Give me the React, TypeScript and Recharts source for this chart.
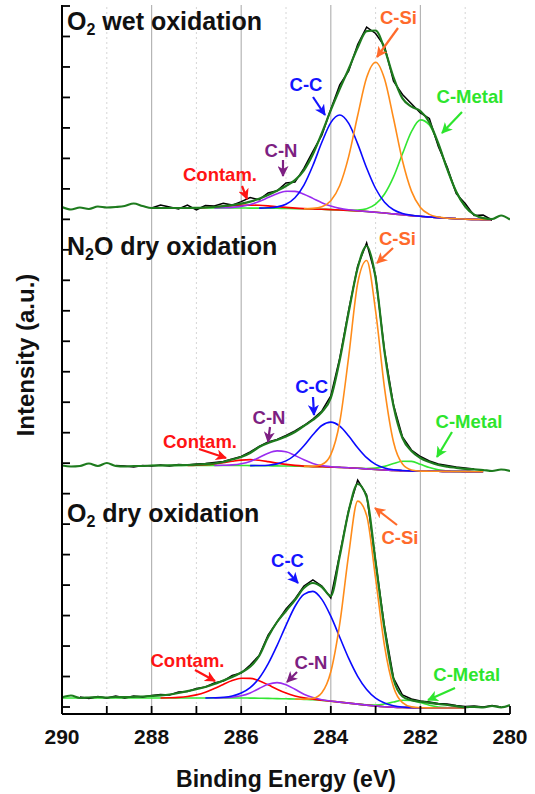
import React from 'react';
import { LineChart, Line, XAxis, YAxis, ReferenceLine } from 'recharts';

const _ = null;

// Binding energy grid (eV)
const BE = [
  290, 289.8, 289.6, 289.4, 289.2, 289, 288.8, 288.6, 288.4, 288.2,
  288, 287.8, 287.6, 287.4, 287.2, 287, 286.8, 286.6, 286.4, 286.2,
  286, 285.8, 285.6, 285.4, 285.2, 285, 284.8, 284.6, 284.4, 284.2,
  284, 283.8, 283.6, 283.4, 283.2, 283, 282.8, 282.6, 282.4, 282.2,
  282, 281.8, 281.6, 281.4, 281.2, 281, 280.8, 280.6, 280.4, 280.2,
  280,
];
const xTicks = [290, 289, 288, 287, 286, 285, 284, 283, 282, 281, 280];
const xTickLabels = ['290', '', '288', '', '286', '', '284', '', '282', '', '280'];

// vertical offset of each stacked spectrum (intensity units)
const panelBase = [494, 242, 6];

// ---------- Panel 1 : O2 wet oxidation ----------
const p1Bg = [
  _, _, _, _, _, _, _, _, _, _,
  12, 12, 12, 12, 12, 12, 12, 12, 12, 12,
  12, 11.9, 11.9, 11.8, 11.7, 11.6, 11.4, 11.2, 11, 10.7,
  10.4, 10, 9.6, 9.1, 8.5, 7.8, 7, 6.1, 5.2, 4.4,
  3.7, 3, 2.4, 1.8, 1.3, 0.9, 0.6, 0.4, 0.2, _,
  _,
];
const p1Contam = [
  _, _, _, _, _, _, _, _, _, _,
  _, _, _, _, 0, 0.2, 0.5, 1, 1.6, 2.3,
  2.8, 3, 2.8, 2.3, 1.6, 1, 0.5, 0.2, 0, 0,
  0, 0, 0, 0, 0, 0, 0, 0, 0, 0,
  0, 0, 0, 0, 0, 0, 0, 0, 0, _,
  _,
];
const p1CN = [
  _, _, _, _, _, _, _, _, _, _,
  _, _, _, _, _, _, _, 0, 0.2, 0.6,
  1.6, 3.5, 6.6, 10.6, 14.6, 17.2, 17.2, 14.6, 10.6, 6.6,
  3.5, 1.6, 0.6, 0.2, 0, 0, 0, 0, 0, 0,
  0, 0, 0, 0, 0, 0, 0, 0, 0, _,
  _,
];
const p1CC = [
  _, _, _, _, _, _, _, _, _, _,
  _, _, _, _, _, _, _, _, _, _,
  _, _, 0, 0.4, 1.4, 4.2, 10.8, 23.7, 43.5, 67,
  87, 95, 87, 67, 43.5, 23.7, 10.8, 4.2, 1.4, 0.4,
  0, 0, 0, 0, 0, 0, 0, 0, 0, _,
  _,
];
const p1CSi = [
  _, _, _, _, _, _, _, _, _, _,
  _, _, _, _, _, _, _, _, _, _,
  _, _, _, _, _, _, _, 0, 0.6, 2.6,
  8.9, 24.5, 54, 95.4, 134, 150, 134, 95.4, 54, 24.5,
  8.9, 2.6, 0.6, 0, 0, 0, 0, 0, 0, _,
  _,
];
const p1Metal = [
  _, _, _, _, _, _, _, _, _, _,
  _, _, _, _, _, _, _, _, _, _,
  _, _, _, _, _, _, _, _, _, _,
  _, _, 0, 0.8, 2.8, 8, 19, 37, 61, 84,
  96.4, 92, 73.5, 49, 27, 12.6, 4.8, 1.5, 0.4, _,
  _,
];
const p1Env = [
  13, 10.5, 12.5, 11, 13.5, 12.5, 13, 14, 16.5, 14,
  12, 12, 12, 12, 12, 12.2, 12.5, 13, 13.8, 14.9,
  16.4, 18.4, 21.3, 25.1, 29.3, 34, 39.9, 49.7, 65.7, 86.9,
  109.8, 131.1, 151.2, 172.5, 188.8, 189.5, 170.8, 142.7, 121.6, 113.3,
  109, 97.6, 76.5, 50.8, 28.3, 13.5, 5.4, 1.9, 1, 4.5,
  0.5,
];
const p1Raw = [
  _, _, _, _, _, _, _, _, _, _,
  12, 15, 13, 11, 15, 10.2, 14.5, 14, 16.8, 14.9,
  18.4, 22.4, 20.3, 27.1, 29.3, 37, 37.9, 51.7, 68.7, 84.9,
  110.8, 135.1, 149.2, 175.5, 192.8, 186.5, 173.8, 138.7, 125.6, 116.3,
  107, 101.6, 73.5, 52.8, 26.3, 16.5, 4.4, 4.9, 0, _,
  _,
];

// ---------- Panel 2 : N2O dry oxidation ----------
const p2Bg = [
  _, _, _, _, _, _, _, _, _, _,
  6.5, 6.5, 6.5, 6.5, 6.5, 6.5, 6.5, 6.5, 6.5, 6.5,
  6.5, 6.4, 6.3, 6.2, 6.1, 6, 5.8, 5.6, 5.4, 5.2,
  4.9, 4.6, 4.2, 3.7, 3.1, 2.5, 2, 1.6, 1.3, 1.1,
  0.9, 0.8, 0.7, 0.6, 0.5, 0.4, 0.3, 0.2, _, _,
  _,
];
const p2Contam = [
  _, _, _, _, _, _, _, _, _, _,
  _, _, _, _, 0, 0.3, 0.8, 1.6, 2.8, 4.2,
  5.4, 6, 5.4, 4.2, 2.8, 1.6, 0.8, 0.3, 0, 0,
  0, 0, 0, 0, 0, 0, 0, 0, 0, 0,
  0, 0, 0, 0, 0, 0, 0, 0, _, _,
  _,
];
const p2CN = [
  _, _, _, _, _, _, _, _, _, _,
  _, _, _, _, _, _, _, 0, 0.2, 0.6,
  1.8, 4.2, 8.2, 12.6, 15, 14.2, 10.8, 6.6, 3.2, 1.2,
  0.4, 0.1, 0, 0, 0, 0, 0, 0, 0, 0,
  0, 0, 0, 0, 0, 0, 0, 0, _, _,
  _,
];
const p2CC = [
  _, _, _, _, _, _, _, _, _, _,
  _, _, _, _, _, _, _, _, _, _,
  _, 0, 0.2, 0.6, 2, 5.1, 11.2, 20.6, 31.8, 41.3,
  45, 41.3, 31.8, 20.6, 11.2, 5.1, 2, 0.6, 0.2, 0,
  0, 0, 0, 0, 0, 0, 0, 0, _, _,
  _,
];
const p2CSi = [
  _, _, _, _, _, _, _, _, _, _,
  _, _, _, _, _, _, _, _, _, _,
  _, _, _, _, _, _, _, 0, 0.3, 2.3,
  12.5, 45.4, 111.5, 185, 208.4, 158.5, 81.7, 28.4, 6.7, 1,
  0, 0, 0, 0, 0, 0, 0, 0, _, _,
  _,
];
const p2Metal = [
  _, _, _, _, _, _, _, _, _, _,
  _, _, _, _, _, _, _, _, _, _,
  _, _, _, _, _, _, _, _, _, _,
  _, _, 0, 0.1, 0.4, 1.4, 3.6, 6.8, 9.5, 9.5,
  6.8, 3.6, 1.4, 0.4, 0.1, 0, 0, 0, _, _,
  _,
];
const p2Env = [
  6.5, 5.5, 6, 8.5, 6, 9, 6, 5.5, 6, 6,
  6.5, 6.5, 6.6, 6.8, 7, 7.4, 7.9, 8.5, 10, 12.5,
  15, 19, 25, 29, 32, 35.5, 40, 46, 52, 60,
  74, 112, 160, 204, 226, 194, 120, 66, 34, 21,
  14, 10, 7, 5.3, 4.2, 3.2, 2.6, 2, 1, 2.5,
  1,
];
const p2Raw = [
  _, _, _, _, _, _, 6.5, 6, 5, 6.5,
  6, 7, 6, 7.5, 7, 8, 8.5, 9.5, 10.5, 13,
  15.5, 20, 25.5, 30, 32.5, 36.5, 41, 46.5, 53, 61,
  76, 114, 162, 206, 229, 196, 121, 67, 35, 22,
  15.5, 11, 8, 6.5, 5, 4, 3, _, _, _,
  _,
];

// ---------- Panel 3 : O2 dry oxidation ----------
const p3Bg = [
  10, 10, 10, 10, 10, 10, 10, 10, 10, 10,
  10, 10, 10, 10, 10, 10, 10, 10, 10, 10,
  10, 9.9, 9.8, 9.6, 9.4, 9.2, 9, 8.6, 8.2, 7.6,
  6.8, 5.9, 4.9, 3.9, 2.9, 2, 1.3, 0.8, 0.5, 0.3,
  0.2, 0.1, 0, 0, 0, 0, _, _, _, _,
  _,
];
const p3Contam = [
  _, _, _, _, _, _, _, _, _, _,
  _, 0, 0.2, 0.6, 1.5, 3.1, 5.7, 9.4, 13.6, 17.4,
  19.7, 19.7, 17.4, 13.6, 9.4, 5.7, 3.1, 1.5, 0.6, 0.2,
  0, 0, 0, 0, 0, 0, 0, 0, 0, 0,
  0, 0, 0, 0, 0, 0, _, _, _, _,
  _,
];
const p3CN = [
  _, _, _, _, _, _, _, _, _, _,
  _, _, _, _, _, _, _, 0, 0.2, 0.7,
  2.2, 5.2, 9.7, 14.1, 16, 14.1, 9.7, 5.2, 2.2, 0.7,
  0.2, 0, 0, 0, 0, 0, 0, 0, 0, 0,
  0, 0, 0, 0, 0, 0, _, _, _, _,
  _,
];
const p3CC = [
  _, _, _, _, _, _, _, _, _, _,
  _, _, _, _, _, _, 0, 0.2, 0.7, 2,
  5, 10.5, 20, 34.5, 53, 73.5, 92.5, 105, 108.4, 101,
  85, 64.8, 44.7, 27.8, 15.6, 7.9, 3.7, 1.5, 0.5, 0.2,
  0, 0, 0, 0, 0, 0, _, _, _, _,
  _,
];
const p3CSi = [
  _, _, _, _, _, _, _, _, _, _,
  _, _, _, _, _, _, _, _, _, _,
  _, _, _, _, _, _, 0, 0.2, 1.4, 7.7,
  29.4, 78.5, 149, 203, 189.7, 127.5, 60.6, 20.2, 4.8, 0.8,
  0.1, 0, 0, 0, 0, 0, _, _, _, _,
  _,
];
const p3Metal = [
  _, _, _, _, _, _, _, _, _, _,
  _, _, _, _, _, _, _, _, _, _,
  _, _, _, _, _, _, _, _, _, _,
  _, _, _, 0, 0.3, 1, 2.7, 5.2, 7.2, 7.2,
  5.2, 2.7, 1, 0.3, 0, 0, _, _, _, _,
  _,
];
const p3Env = [
  10.5, 12.5, 10, 10.5, 11, 10.5, 11, 10.8, 11.2, 11.5,
  12, 12.6, 13.5, 15, 16.8, 18.8, 21, 24, 27.5, 31,
  35.5, 41.3, 52, 71, 86, 97, 108, 120, 125, 121,
  112, 152, 197, 224, 211, 146, 79, 29, 11.5, 7.8,
  6.3, 5.2, 4, 3, 1.8, 0.8, 1.2, 0.5, 2, 0.7,
  3,
];
const p3Raw = [
  _, _, 11, 9.5, 11.5, 10, 12, 10, 12, 11,
  12.5, 13.5, 13, 16, 16.5, 19.5, 21, 25, 27, 32.5,
  35, 43, 52.5, 73, 86, 99, 109, 122, 128, 122,
  110, 154, 198, 228, 213, 147, 81, 30, 13, 9,
  7, 6, 4.5, 4, 2.5, 1.5, 2, 1, 2.5, 1,
  _,
];

// ---------- styling ----------
const FONT = '"Liberation Sans", Arial, Helvetica, sans-serif';
const COL = {
  raw: '#000000',
  env: '#1e7b1e',
  bg: '#33e633',
  metal: '#33e633',
  contam: '#ff0000',
  cn: '#9a2cf0',
  cc: '#0a0aff',
  csi: '#ff8c1a',
};
const LABEL_COL = {
  contam: '#ff1414',
  cn: '#7d1f82',
  cc: '#1414ff',
  csi: '#ff6a2b',
  metal: '#2de52d',
};

type Num = number | null;
function build(vals: Num[], base: number, bg?: Num[]) {
  return BE.map((x, i) => {
    const v = vals[i];
    const b = bg ? bg[i] : 0;
    return { x, y: v == null || b == null ? null : base + v + (b as number) };
  });
}

const panels = [
  { bg: p1Bg, contam: p1Contam, cn: p1CN, cc: p1CC, csi: p1CSi, metal: p1Metal, env: p1Env, raw: p1Raw },
  { bg: p2Bg, contam: p2Contam, cn: p2CN, cc: p2CC, csi: p2CSi, metal: p2Metal, env: p2Env, raw: p2Raw },
  { bg: p3Bg, contam: p3Contam, cn: p3CN, cc: p3CC, csi: p3CSi, metal: p3Metal, env: p3Env, raw: p3Raw },
];

// y-axis tick positions (unlabelled)
const yTicks = Array.from({ length: 24 }, (_v, k) => 7 + (k * 701) / 23);
const Y_TICK_LEN = 8 / 44.8; // eV (= 8 px)

function XTick(props: any) {
  const { x, y, payload } = props;
  const idx = xTicks.indexOf(payload.value);
  const label = idx >= 0 ? xTickLabels[idx] : '';
  return (
    <g>
      <line x1={x} x2={x} y1={y} y2={y - 8} stroke="#000" strokeWidth={1.8} />
      {label ? (
        <text x={x} y={y} dy={30} textAnchor="middle" fontFamily={FONT} fontWeight="bold" fontSize={21} fill="#111">
          {label}
        </text>
      ) : null}
    </g>
  );
}

// annotation layout (pixels)
const titles = [
  { a: 'O', s: '2', b: ' wet oxidation', x: 67, y: 30 },
  { a: 'N', s: '2', b: 'O dry oxidation', x: 67, y: 255 },
  { a: 'O', s: '2', b: ' dry oxidation', x: 67, y: 522 },
];
const compLabels = [
  { t: 'C-Si', c: 'csi', x: 398.5, y: 17 },
  { t: 'C-C', c: 'cc', x: 306, y: 84.5 },
  { t: 'C-Metal', c: 'metal', x: 470, y: 96.5 },
  { t: 'C-N', c: 'cn', x: 281, y: 150 },
  { t: 'Contam.', c: 'contam', x: 220, y: 174.5 },
  { t: 'C-Si', c: 'csi', x: 397.5, y: 238 },
  { t: 'C-C', c: 'cc', x: 311.7, y: 386.5 },
  { t: 'C-N', c: 'cn', x: 269, y: 417 },
  { t: 'Contam.', c: 'contam', x: 200, y: 441 },
  { t: 'C-Metal', c: 'metal', x: 469, y: 421.7 },
  { t: 'C-Si', c: 'csi', x: 400, y: 537.5 },
  { t: 'C-C', c: 'cc', x: 287.5, y: 560.5 },
  { t: 'C-N', c: 'cn', x: 311, y: 662.5 },
  { t: 'Contam.', c: 'contam', x: 187.5, y: 660 },
  { t: 'C-Metal', c: 'metal', x: 466.7, y: 674 },
];
const arrows = [
  { c: 'csi', x1: 398, y1: 28, x2: 377, y2: 57 },
  { c: 'cc', x1: 313, y1: 97, x2: 325, y2: 115 },
  { c: 'metal', x1: 462, y1: 112, x2: 442, y2: 133 },
  { c: 'cn', x1: 283, y1: 160, x2: 283, y2: 176 },
  { c: 'contam', x1: 242, y1: 186, x2: 247, y2: 199 },
  { c: 'csi', x1: 393, y1: 248, x2: 377, y2: 263 },
  { c: 'cc', x1: 313, y1: 397, x2: 314, y2: 415 },
  { c: 'cn', x1: 270, y1: 427, x2: 268, y2: 442 },
  { c: 'contam', x1: 199, y1: 449, x2: 226, y2: 458 },
  { c: 'metal', x1: 452, y1: 432, x2: 437, y2: 457 },
  { c: 'csi', x1: 397, y1: 525, x2: 375, y2: 508 },
  { c: 'cc', x1: 288, y1: 572, x2: 298, y2: 583 },
  { c: 'cn', x1: 297, y1: 672, x2: 287, y2: 682 },
  { c: 'contam', x1: 195, y1: 670, x2: 215, y2: 681 },
  { c: 'metal', x1: 455, y1: 688, x2: 428, y2: 700 },
];

export default function App() {
  const lines: React.ReactNode[] = [];
  panels.forEach((p, pi) => {
    const base = panelBase[pi];
    const defs: [string, Num[], boolean, string, number, 'monotone' | 'linear'][] = [
      ['bg', p.bg, false, COL.bg, 1.6, 'monotone'],
      ['metal', p.metal, true, COL.metal, 1.6, 'monotone'],
      ['contam', p.contam, true, COL.contam, 1.6, 'monotone'],
      ['cn', p.cn, true, COL.cn, 1.6, 'monotone'],
      ['cc', p.cc, true, COL.cc, 1.6, 'monotone'],
      ['csi', p.csi, true, COL.csi, 1.6, 'monotone'],
      ['raw', p.raw, false, COL.raw, 1.5, 'linear'],
      ['env', p.env, false, COL.env, 2.2, 'monotone'],
    ];
    defs.forEach(([name, vals, useBg, color, w, type]) => {
      lines.push(
        <Line
          key={`p${pi}-${name}`}
          data={build(vals, base, useBg ? p.bg : undefined)}
          dataKey="y"
          type={type}
          stroke={color}
          strokeWidth={w}
          dot={false}
          activeDot={false}
          isAnimationActive={false}
          connectNulls={false}
        />
      );
    });
  });

  return (
    <div style={{ position: 'absolute', left: 0, top: 0, width: 535, height: 794, background: '#fff' }}>
      <LineChart width={535} height={794} margin={{ top: 5, right: 25, bottom: 50, left: 62 }}>
        {[288, 286, 284, 282].map((v) => (
          <ReferenceLine key={`g${v}`} x={v} stroke="#b5b5b5" strokeWidth={1.2} />
        ))}
        {[289, 287, 285, 283, 281].map((v) => (
          <ReferenceLine key={`d${v}`} x={v} stroke="#d6d6d6" strokeWidth={1} strokeDasharray="2 3" />
        ))}
        <XAxis
          type="number"
          dataKey="x"
          domain={[280, 290]}
          reversed
          allowDataOverflow
          ticks={xTicks}
          interval={0}
          height={30}
          tickSize={0}
          tickMargin={0}
          axisLine={{ stroke: '#000', strokeWidth: 2 }}
          tickLine={false}
          tick={<XTick />}
        />
        <YAxis
          type="number"
          domain={[0, 709]}
          allowDataOverflow
          ticks={yTicks}
          interval={0}
          mirror
          tickSize={0}
          tick={false}
          axisLine={{ stroke: '#000', strokeWidth: 2 }}
          tickLine={false}
        />
        {lines}
        {yTicks.map((u, k) => (
          <ReferenceLine
            key={`yt${k}`}
            segment={[{ x: 290, y: u }, { x: 290 - Y_TICK_LEN, y: u }]}
            stroke="#000"
            strokeWidth={1.8}
            ifOverflow="visible"
          />
        ))}
      </LineChart>
      <svg
        width={535}
        height={794}
        style={{ position: 'absolute', left: 0, top: 0, pointerEvents: 'none' }}
      >
        <defs>
          {Object.entries(LABEL_COL).map(([k, c]) => (
            <marker
              key={k}
              id={`ah-${k}`}
              markerUnits="userSpaceOnUse"
              markerWidth={11}
              markerHeight={11}
              refX={10}
              refY={5.5}
              orient="auto"
            >
              <path d="M0,0 L11,5.5 L0,11 L3,5.5 z" fill={c} />
            </marker>
          ))}
        </defs>
        {titles.map((t, i) => (
          <text key={`t${i}`} x={t.x} y={t.y} fontFamily={FONT} fontWeight="bold" fontSize={25} fill="#111">
            {t.a}
            <tspan fontSize={16} dy={5}>{t.s}</tspan>
            <tspan dy={-5}>{t.b}</tspan>
          </text>
        ))}
        {compLabels.map((l, i) => (
          <text
            key={`l${i}`}
            x={l.x}
            y={l.y + 6.6}
            textAnchor="middle"
            fontFamily={FONT}
            fontWeight="bold"
            fontSize={18.5}
            fill={(LABEL_COL as any)[l.c]}
          >
            {l.t}
          </text>
        ))}
        {arrows.map((a, i) => (
          <line
            key={`a${i}`}
            x1={a.x1}
            y1={a.y1}
            x2={a.x2}
            y2={a.y2}
            stroke={(LABEL_COL as any)[a.c]}
            strokeWidth={2.2}
            markerEnd={`url(#ah-${a.c})`}
          />
        ))}
        <text
          transform="translate(34,355) rotate(-90)"
          textAnchor="middle"
          fontFamily={FONT}
          fontWeight="bold"
          fontSize={24}
          fill="#111"
        >
          Intensity (a.u.)
        </text>
        <text x={286} y={787} textAnchor="middle" fontFamily={FONT} fontWeight="bold" fontSize={23} fill="#111">
          Binding Energy (eV)
        </text>
      </svg>
    </div>
  );
}
